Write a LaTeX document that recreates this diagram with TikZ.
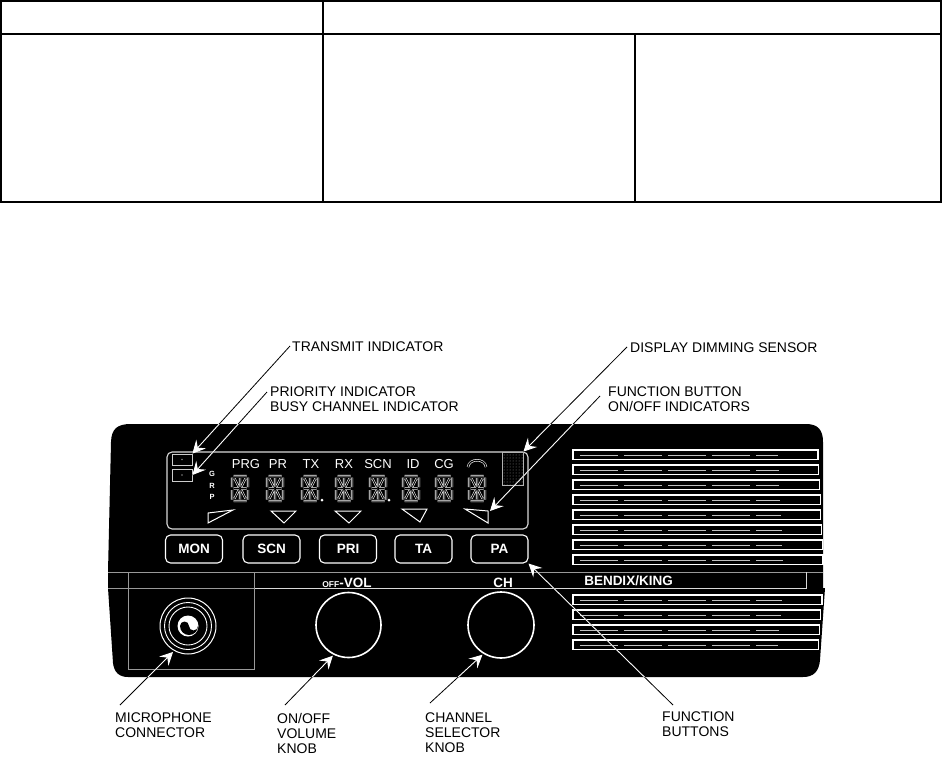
\documentclass[tikz,border=0pt]{standalone}
\usepackage{fontspec}
\setmainfont{Liberation Sans}
\usetikzlibrary{arrows.meta,calc,patterns}
\tikzset{
  lcd/.pic={
    \draw[seg] (1.5,0)--(14.5,0) (1.5,25)--(14.5,25) (1.5,12.5)--(7,12.5) (9,12.5)--(14.5,12.5)
      (0,1.5)--(0,11) (0,14)--(0,23.5) (16,1.5)--(16,11) (16,14)--(16,23.5)
      (8,2)--(8,10.5) (8,14.5)--(8,23)
      (2.5,2.5)--(6.5,10.5) (13.5,2.5)--(9.5,10.5) (6.5,14.5)--(2.5,22.5) (9.5,14.5)--(13.5,22.5);
  }
}
\begin{document}
\begin{tikzpicture}[x=1pt,y=-1pt,
  lbl/.style={anchor=north west, inner sep=0pt, align=left, font=\fontsize{14}{15}\selectfont},
  lead/.style={black, line width=0.8pt},
  leadw/.style={white, line width=0.9pt, -{Stealth[length=13pt,width=13pt,inset=5pt]}},
  btn/.style={draw=white, fill=black, line width=1.1pt, rounded corners=5pt, minimum width=57pt, minimum height=28pt, inner sep=0pt, text=white, font=\fontsize{13.5}{13.5}\selectfont\bfseries},
  seg/.style={draw=white, line width=0.6pt, double=black, double distance=1pt},
  lcdlbl/.style={text=white, inner sep=0pt, font=\fontsize{13}{13}\selectfont},
  grp/.style={text=white, inner sep=0pt, font=\fontsize{7.5}{7.5}\selectfont\bfseries},
  panelw/.style={text=white, inner sep=0pt, font=\fontsize{13.5}{13.5}\selectfont\bfseries},
  tri/.style={draw=white, line width=1pt},
  slot/.style={draw=white, line width=1.2pt, fill=black},
  slotdash/.style={white!75!black, line width=0.6pt, dash pattern=on 38pt off 6pt},
  knob/.style={circle, draw=white, line width=1.6pt, inner sep=0pt, outer sep=2pt},
  indbox/.style={draw=white!80!black, fill=black, line width=0.8pt, minimum width=20pt, inner sep=0pt},
  thinline/.style={white!60!black, line width=0.7pt}
]
\useasboundingbox (0,0) rectangle (942,776);
\fill[white] (0,0) rectangle (942,776);

% table
\draw[line width=1.6pt] (1,1) rectangle (941,202);
\draw[line width=1.6pt] (1,34) -- (941,34) (323,1) -- (323,202) (635,34) -- (635,202);

% panel body
\fill[black] (108,572) -- (111,442) .. controls (111.5,429) and (117,424) .. (131,424) -- (806,424) .. controls (818,424) and (823,430) .. (823,442) -- (823,588) -- (825,588) -- (820,660) .. controls (819,671) and (814,677) .. (803,677) -- (128,677) .. controls (119,677) and (114,672) .. (113,663) -- (108,588) -- cycle;

% panel lines
\draw[thinline] (108,572) -- (823,572);
\draw[thinline] (108,588) -- (254,588);
\draw[white!85!black, line width=0.9pt] (254,588) -- (806,588) -- (806,572);
\draw[thinline] (128,572) -- (128,669) -- (254,669) -- (254,572);

% speaker slots
\foreach \i in {0,...,7} {
  \pgfmathsetmacro\yy{450+15*\i}
  \pgfmathsetmacro\xr{818+0.7*\i}
  \draw[slot] (573,\yy) rectangle (\xr,\yy+9.5);
  \draw[slotdash] (580,\yy+5) -- (\xr-40,\yy+5);
}
\foreach \i in {0,...,3} {
  \pgfmathsetmacro\yy{595+15*\i}
  \pgfmathsetmacro\xr{822-1.3*\i}
  \draw[slot] (573,\yy) rectangle (\xr,\yy+9.5);
  \draw[slotdash] (580,\yy+5) -- (\xr-40,\yy+5);
}

% display window
\node[draw=white!85!black, line width=1.1pt, rounded corners=5pt, minimum width=361pt, minimum height=77pt, inner sep=0pt] (disp) at (347.5,490.5) {};
\node[indbox, minimum height=11pt] (box1) at (182,459.5) {};
\node[indbox, minimum height=12pt] (box2) at (182,475) {};
\fill[gray] (box1.center) circle (0.8) (box2.center) circle (0.8);
\node[draw=white!70!black, line width=0.8pt, minimum width=21pt, minimum height=33pt, inner sep=0pt, preaction={fill=black}, pattern=dots, pattern color=white!55!black] (sensor) at (512.5,468.5) {};

\node[grp] (gG) at (212,474) {G};
\node[grp] (gR) at (212,486) {R};
\node[grp] (gP) at (212,497) {P};

\node[lcdlbl] (tPRG) at (246,464) {PRG};
\node[lcdlbl] (tPR) at (278,464) {PR};
\node[lcdlbl] (tTX) at (311,464) {TX};
\node[lcdlbl] (tRX) at (344,464) {RX};
\node[lcdlbl] (tSCN) at (378,464) {SCN};
\node[lcdlbl] (tID) at (413,464) {ID};
\node[lcdlbl] (tCG) at (444,464) {CG};
\draw[white, line width=0.6pt, double=black, double distance=1.2pt] (468,467) .. controls (469,458) and (485,458) .. (486,467);

\foreach \cx in {240,275,310,344,378,411,444,477} {
  \pic at (\cx-8,476) {lcd};
}
\fill[white] (322,500) circle (1.5) (389,500) circle (1.5);

\draw[tri] (208,513) -- (233,510) -- (208,523) -- cycle;
\draw[tri] (271,511) -- (296,511) -- (284,523) -- cycle;
\draw[tri] (335,511) -- (361,511) -- (349,523) -- cycle;
\draw[tri] (402,509) -- (427,509) -- (420,522) -- cycle;
\draw[tri] (465,509) -- (488,511) -- (488,523) -- cycle;
\coordinate (tri5) at (490,511);

% buttons
\node[btn] (bMON) at (194,549) {MON};
\node[btn] (bSCN) at (271.5,549) {SCN};
\node[btn] (bPRI) at (348,549) {PRI};
\node[btn] (bTA) at (423.5,549) {TA};
\node[btn] (bPA) at (499.5,549) {PA};

% lower panel texts
\node[panelw] (offvol) at (347,582.5) {{\fontsize{8.5}{8.5}\selectfont OFF}-VOL};
\node[panelw] (chtxt) at (503,582.5) {CH};
\node[panelw] (bk) at (628.5,580.5) {BENDIX/KING};

% knobs and mic connector
\node[knob, minimum size=65pt] (vol) at (348.5,625) {};
\node[knob, minimum size=66pt] (ch) at (501,625) {};
\node[circle, draw=white, line width=1pt, minimum size=56pt, inner sep=0pt, outer sep=2pt] (mic) at (188,626) {};
\draw[white, line width=0.9pt] (mic.center) circle (23.5) (mic.center) circle (19);
\fill[white] (mic.center) circle (10.5);
\fill[black] (198,626) arc[start angle=0, end angle=180, radius=9] arc[start angle=180, end angle=360, radius=4.5] arc[start angle=180, end angle=0, radius=4.5] -- cycle;

% labels
\node[lbl] (lTX) at (292,342) {TRANSMIT INDICATOR};
\node[lbl] (lPRI) at (270,387) {PRIORITY INDICATOR\\BUSY CHANNEL INDICATOR};
\node[lbl] (lDIM) at (630,343) {DISPLAY DIMMING SENSOR};
\node[lbl] (lFBI) at (608,387) {FUNCTION BUTTON\\ON/OFF INDICATORS};
\node[lbl] (lMIC) at (115,713) {MICROPHONE\\CONNECTOR};
\node[lbl] (lVOL) at (277,713) {ON/OFF\\VOLUME\\KNOB};
\node[lbl] (lCH) at (425,713) {CHANNEL\\SELECTOR\\KNOB};
\node[lbl] (lFB) at (662,712) {FUNCTION\\BUTTONS};

\coordinate (sTX) at ($(lTX.north west)+(-2,4)$);
\coordinate (sPRI) at ($(lPRI.north west)+(-3,5)$);
\coordinate (sDIM) at ($(lDIM.north west)+(-3,4)$);
\coordinate (sFBI) at ($(lFBI.north west)+(-8,9)$);
\coordinate (sMIC) at ($(lMIC.north west)+(5,-8)$);
\coordinate (sVOL) at ($(lVOL.north west)+(8,-8)$);
\coordinate (sCH) at ($(lCH.north west)+(5,-10)$);
\coordinate (sFB) at ($(lFB.north west)+(11,-7)$);

% leaders (black outside the panel)
\draw[lead] (sTX) -- (box1.north east);
\draw[lead] (sPRI) -- (box2.east);
\draw[lead] (sDIM) -- (sensor.north east);
\draw[lead] (sFBI) -- (tri5);
\draw[lead] (sMIC) -- (mic.240);
\draw[lead] (sVOL) -- (vol.243);
\draw[lead] (sCH) -- (ch.238);
\draw[lead] (sFB) -- (bPA.south east);

% leaders (white inside the panel)
\begin{scope}
\clip (108,572) -- (111,442) .. controls (111.5,429) and (117,424) .. (131,424) -- (806,424) .. controls (818,424) and (823,430) .. (823,442) -- (823,588) -- (825,588) -- (820,660) .. controls (819,671) and (814,677) .. (803,677) -- (128,677) .. controls (119,677) and (114,672) .. (113,663) -- (108,588) -- cycle;
\draw[leadw] (sTX) -- (box1.north east);
\draw[leadw] (sPRI) -- (box2.east);
\draw[leadw] (sDIM) -- (sensor.north east);
\draw[leadw] (sFBI) -- (tri5);
\draw[leadw] (sMIC) -- (mic.240);
\draw[leadw] (sVOL) -- (vol.243);
\draw[leadw] (sCH) -- (ch.238);
\draw[leadw] (sFB) -- (bPA.south east);
\end{scope}
\end{tikzpicture}
\end{document}
